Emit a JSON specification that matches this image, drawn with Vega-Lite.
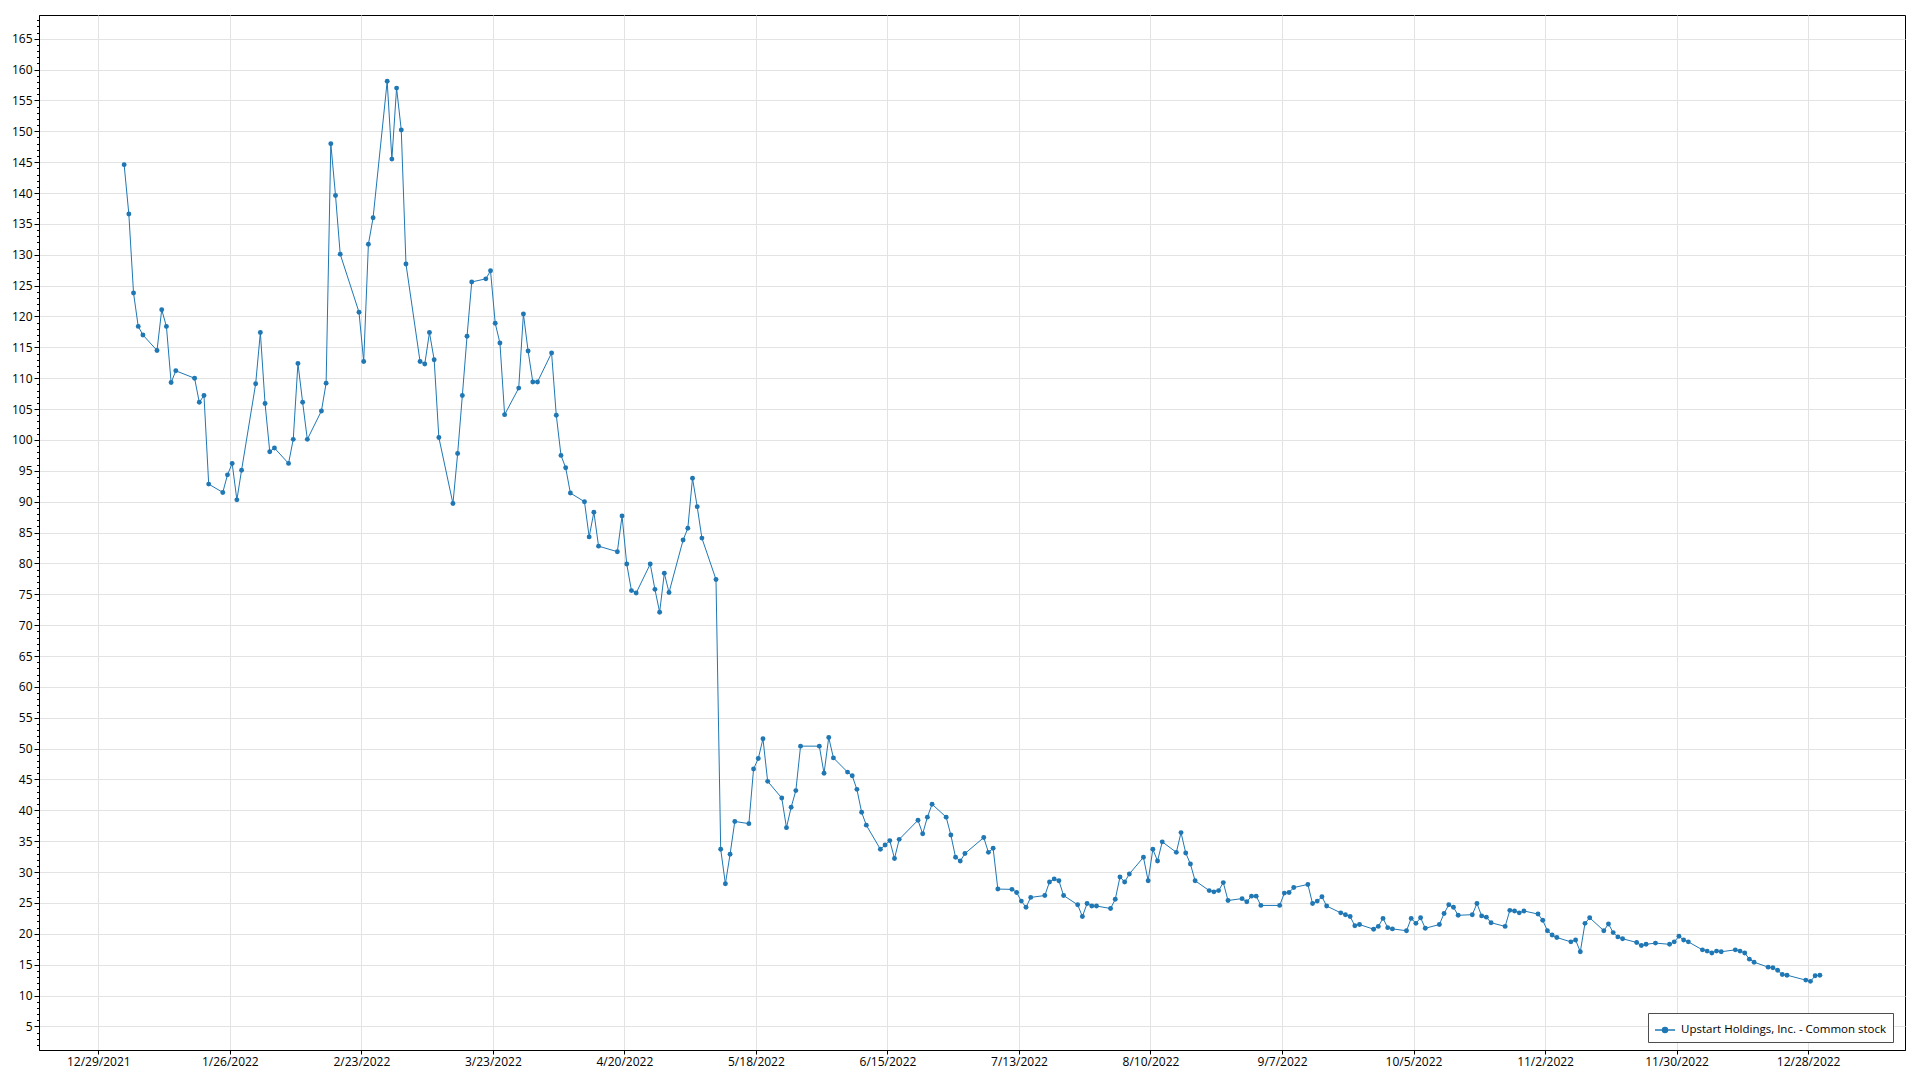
{
  "$schema": "https://vega.github.io/schema/vega-lite/v6.json",
  "width": 1866,
  "height": 1035,
  "autosize": {"type": "none"},
  "padding": {"left": 39, "top": 15, "right": 15, "bottom": 30},
  "background": "white",
  "config": {
    "view": {"stroke": "black", "strokeWidth": 1},
    "font": "Open Sans",
    "axis": {"domainColor": "black", "tickColor": "black", "labelColor": "black", "labelFontSize": 12, "gridColor": "#e3e3e3", "gridWidth": 1, "title": null}
  },
  "data": {"values": [
    {"date":"2022-01-03T12:00","close":144.6},
    {"date":"2022-01-04T12:00","close":136.6},
    {"date":"2022-01-05T12:00","close":123.8},
    {"date":"2022-01-06T12:00","close":118.4},
    {"date":"2022-01-07T12:00","close":117.0},
    {"date":"2022-01-10T12:00","close":114.5},
    {"date":"2022-01-11T12:00","close":121.1},
    {"date":"2022-01-12T12:00","close":118.4},
    {"date":"2022-01-13T12:00","close":109.3},
    {"date":"2022-01-14T12:00","close":111.2},
    {"date":"2022-01-18T12:00","close":110.0},
    {"date":"2022-01-19T12:00","close":106.1},
    {"date":"2022-01-20T12:00","close":107.2},
    {"date":"2022-01-21T12:00","close":92.85},
    {"date":"2022-01-24T12:00","close":91.5},
    {"date":"2022-01-25T12:00","close":94.35},
    {"date":"2022-01-26T12:00","close":96.2},
    {"date":"2022-01-27T12:00","close":90.3},
    {"date":"2022-01-28T12:00","close":95.1},
    {"date":"2022-01-31T12:00","close":109.1},
    {"date":"2022-02-01T12:00","close":117.4},
    {"date":"2022-02-02T12:00","close":105.9},
    {"date":"2022-02-03T12:00","close":98.1},
    {"date":"2022-02-04T12:00","close":98.7},
    {"date":"2022-02-07T12:00","close":96.2},
    {"date":"2022-02-08T12:00","close":100.1},
    {"date":"2022-02-09T12:00","close":112.4},
    {"date":"2022-02-10T12:00","close":106.1},
    {"date":"2022-02-11T12:00","close":100.1},
    {"date":"2022-02-14T12:00","close":104.7},
    {"date":"2022-02-15T12:00","close":109.2},
    {"date":"2022-02-16T12:00","close":148.0},
    {"date":"2022-02-17T12:00","close":139.6},
    {"date":"2022-02-18T12:00","close":130.1},
    {"date":"2022-02-22T12:00","close":120.7},
    {"date":"2022-02-23T12:00","close":112.7},
    {"date":"2022-02-24T12:00","close":131.7},
    {"date":"2022-02-25T12:00","close":136.0},
    {"date":"2022-02-28T12:00","close":158.1},
    {"date":"2022-03-01T12:00","close":145.5},
    {"date":"2022-03-02T12:00","close":157.0},
    {"date":"2022-03-03T12:00","close":150.2},
    {"date":"2022-03-04T12:00","close":128.5},
    {"date":"2022-03-07T12:00","close":112.7},
    {"date":"2022-03-08T12:00","close":112.3},
    {"date":"2022-03-09T12:00","close":117.4},
    {"date":"2022-03-10T12:00","close":113.0},
    {"date":"2022-03-11T12:00","close":100.4},
    {"date":"2022-03-14T12:00","close":89.7},
    {"date":"2022-03-15T12:00","close":97.8},
    {"date":"2022-03-16T12:00","close":107.2},
    {"date":"2022-03-17T12:00","close":116.8},
    {"date":"2022-03-18T12:00","close":125.6},
    {"date":"2022-03-21T12:00","close":126.1},
    {"date":"2022-03-22T12:00","close":127.4},
    {"date":"2022-03-23T12:00","close":118.9},
    {"date":"2022-03-24T12:00","close":115.7},
    {"date":"2022-03-25T12:00","close":104.1},
    {"date":"2022-03-28T12:00","close":108.4},
    {"date":"2022-03-29T12:00","close":120.4},
    {"date":"2022-03-30T12:00","close":114.4},
    {"date":"2022-03-31T12:00","close":109.4},
    {"date":"2022-04-01T12:00","close":109.4},
    {"date":"2022-04-04T12:00","close":114.1},
    {"date":"2022-04-05T12:00","close":104.0},
    {"date":"2022-04-06T12:00","close":97.5},
    {"date":"2022-04-07T12:00","close":95.5},
    {"date":"2022-04-08T12:00","close":91.4},
    {"date":"2022-04-11T12:00","close":90.0},
    {"date":"2022-04-12T12:00","close":84.3},
    {"date":"2022-04-13T12:00","close":88.3},
    {"date":"2022-04-14T12:00","close":82.8},
    {"date":"2022-04-18T12:00","close":81.9},
    {"date":"2022-04-19T12:00","close":87.7},
    {"date":"2022-04-20T12:00","close":79.9},
    {"date":"2022-04-21T12:00","close":75.6},
    {"date":"2022-04-22T12:00","close":75.2},
    {"date":"2022-04-25T12:00","close":79.9},
    {"date":"2022-04-26T12:00","close":75.8},
    {"date":"2022-04-27T12:00","close":72.1},
    {"date":"2022-04-28T12:00","close":78.4},
    {"date":"2022-04-29T12:00","close":75.3},
    {"date":"2022-05-02T12:00","close":83.8},
    {"date":"2022-05-03T12:00","close":85.7},
    {"date":"2022-05-04T12:00","close":93.8},
    {"date":"2022-05-05T12:00","close":89.2},
    {"date":"2022-05-06T12:00","close":84.1},
    {"date":"2022-05-09T12:00","close":77.4},
    {"date":"2022-05-10T12:00","close":33.7},
    {"date":"2022-05-11T12:00","close":28.1},
    {"date":"2022-05-12T12:00","close":32.9},
    {"date":"2022-05-13T12:00","close":38.2},
    {"date":"2022-05-16T12:00","close":37.85},
    {"date":"2022-05-17T12:00","close":46.7},
    {"date":"2022-05-18T12:00","close":48.4},
    {"date":"2022-05-19T12:00","close":51.6},
    {"date":"2022-05-20T12:00","close":44.7},
    {"date":"2022-05-23T12:00","close":42.0},
    {"date":"2022-05-24T12:00","close":37.2},
    {"date":"2022-05-25T12:00","close":40.5},
    {"date":"2022-05-26T12:00","close":43.2},
    {"date":"2022-05-27T12:00","close":50.4},
    {"date":"2022-05-31T12:00","close":50.4},
    {"date":"2022-06-01T12:00","close":46.0},
    {"date":"2022-06-02T12:00","close":51.8},
    {"date":"2022-06-03T12:00","close":48.5},
    {"date":"2022-06-06T12:00","close":46.2},
    {"date":"2022-06-07T12:00","close":45.6},
    {"date":"2022-06-08T12:00","close":43.4},
    {"date":"2022-06-09T12:00","close":39.7},
    {"date":"2022-06-10T12:00","close":37.6},
    {"date":"2022-06-13T12:00","close":33.7},
    {"date":"2022-06-14T12:00","close":34.4},
    {"date":"2022-06-15T12:00","close":35.1},
    {"date":"2022-06-16T12:00","close":32.2},
    {"date":"2022-06-17T12:00","close":35.3},
    {"date":"2022-06-21T12:00","close":38.4},
    {"date":"2022-06-22T12:00","close":36.2},
    {"date":"2022-06-23T12:00","close":38.9},
    {"date":"2022-06-24T12:00","close":41.0},
    {"date":"2022-06-27T12:00","close":38.9},
    {"date":"2022-06-28T12:00","close":36.0},
    {"date":"2022-06-29T12:00","close":32.4},
    {"date":"2022-06-30T12:00","close":31.8},
    {"date":"2022-07-01T12:00","close":33.0},
    {"date":"2022-07-05T12:00","close":35.6},
    {"date":"2022-07-06T12:00","close":33.2},
    {"date":"2022-07-07T12:00","close":33.85},
    {"date":"2022-07-08T12:00","close":27.25},
    {"date":"2022-07-11T12:00","close":27.2},
    {"date":"2022-07-12T12:00","close":26.7},
    {"date":"2022-07-13T12:00","close":25.3},
    {"date":"2022-07-14T12:00","close":24.3},
    {"date":"2022-07-15T12:00","close":25.9},
    {"date":"2022-07-18T12:00","close":26.2},
    {"date":"2022-07-19T12:00","close":28.4},
    {"date":"2022-07-20T12:00","close":28.9},
    {"date":"2022-07-21T12:00","close":28.6},
    {"date":"2022-07-22T12:00","close":26.2},
    {"date":"2022-07-25T12:00","close":24.7},
    {"date":"2022-07-26T12:00","close":22.8},
    {"date":"2022-07-27T12:00","close":24.9},
    {"date":"2022-07-28T12:00","close":24.5},
    {"date":"2022-07-29T12:00","close":24.5},
    {"date":"2022-08-01T12:00","close":24.1},
    {"date":"2022-08-02T12:00","close":25.6},
    {"date":"2022-08-03T12:00","close":29.2},
    {"date":"2022-08-04T12:00","close":28.4},
    {"date":"2022-08-05T12:00","close":29.7},
    {"date":"2022-08-08T12:00","close":32.4},
    {"date":"2022-08-09T12:00","close":28.6},
    {"date":"2022-08-10T12:00","close":33.7},
    {"date":"2022-08-11T12:00","close":31.8},
    {"date":"2022-08-12T12:00","close":34.9},
    {"date":"2022-08-15T12:00","close":33.2},
    {"date":"2022-08-16T12:00","close":36.4},
    {"date":"2022-08-17T12:00","close":33.1},
    {"date":"2022-08-18T12:00","close":31.3},
    {"date":"2022-08-19T12:00","close":28.6},
    {"date":"2022-08-22T12:00","close":27.0},
    {"date":"2022-08-23T12:00","close":26.8},
    {"date":"2022-08-24T12:00","close":27.0},
    {"date":"2022-08-25T12:00","close":28.3},
    {"date":"2022-08-26T12:00","close":25.4},
    {"date":"2022-08-29T12:00","close":25.7},
    {"date":"2022-08-30T12:00","close":25.2},
    {"date":"2022-08-31T12:00","close":26.1},
    {"date":"2022-09-01T12:00","close":26.1},
    {"date":"2022-09-02T12:00","close":24.6},
    {"date":"2022-09-06T12:00","close":24.6},
    {"date":"2022-09-07T12:00","close":26.6},
    {"date":"2022-09-08T12:00","close":26.7},
    {"date":"2022-09-09T12:00","close":27.5},
    {"date":"2022-09-12T12:00","close":28.0},
    {"date":"2022-09-13T12:00","close":24.9},
    {"date":"2022-09-14T12:00","close":25.3},
    {"date":"2022-09-15T12:00","close":26.0},
    {"date":"2022-09-16T12:00","close":24.5},
    {"date":"2022-09-19T12:00","close":23.4},
    {"date":"2022-09-20T12:00","close":23.1},
    {"date":"2022-09-21T12:00","close":22.8},
    {"date":"2022-09-22T12:00","close":21.3},
    {"date":"2022-09-23T12:00","close":21.5},
    {"date":"2022-09-26T12:00","close":20.75},
    {"date":"2022-09-27T12:00","close":21.2},
    {"date":"2022-09-28T12:00","close":22.5},
    {"date":"2022-09-29T12:00","close":21.0},
    {"date":"2022-09-30T12:00","close":20.8},
    {"date":"2022-10-03T12:00","close":20.5},
    {"date":"2022-10-04T12:00","close":22.5},
    {"date":"2022-10-05T12:00","close":21.7},
    {"date":"2022-10-06T12:00","close":22.6},
    {"date":"2022-10-07T12:00","close":20.9},
    {"date":"2022-10-10T12:00","close":21.5},
    {"date":"2022-10-11T12:00","close":23.3},
    {"date":"2022-10-12T12:00","close":24.7},
    {"date":"2022-10-13T12:00","close":24.3},
    {"date":"2022-10-14T12:00","close":23.0},
    {"date":"2022-10-17T12:00","close":23.1},
    {"date":"2022-10-18T12:00","close":24.9},
    {"date":"2022-10-19T12:00","close":22.9},
    {"date":"2022-10-20T12:00","close":22.7},
    {"date":"2022-10-21T12:00","close":21.8},
    {"date":"2022-10-24T12:00","close":21.2},
    {"date":"2022-10-25T12:00","close":23.8},
    {"date":"2022-10-26T12:00","close":23.7},
    {"date":"2022-10-27T12:00","close":23.4},
    {"date":"2022-10-28T12:00","close":23.7},
    {"date":"2022-10-31T12:00","close":23.2},
    {"date":"2022-11-01T12:00","close":22.2},
    {"date":"2022-11-02T12:00","close":20.5},
    {"date":"2022-11-03T12:00","close":19.8},
    {"date":"2022-11-04T12:00","close":19.4},
    {"date":"2022-11-07T12:00","close":18.7},
    {"date":"2022-11-08T12:00","close":19.0},
    {"date":"2022-11-09T12:00","close":17.1},
    {"date":"2022-11-10T12:00","close":21.7},
    {"date":"2022-11-11T12:00","close":22.6},
    {"date":"2022-11-14T12:00","close":20.5},
    {"date":"2022-11-15T12:00","close":21.6},
    {"date":"2022-11-16T12:00","close":20.2},
    {"date":"2022-11-17T12:00","close":19.5},
    {"date":"2022-11-18T12:00","close":19.2},
    {"date":"2022-11-21T12:00","close":18.6},
    {"date":"2022-11-22T12:00","close":18.1},
    {"date":"2022-11-23T12:00","close":18.3},
    {"date":"2022-11-25T12:00","close":18.5},
    {"date":"2022-11-28T12:00","close":18.3},
    {"date":"2022-11-29T12:00","close":18.7},
    {"date":"2022-11-30T12:00","close":19.6},
    {"date":"2022-12-01T12:00","close":19.0},
    {"date":"2022-12-02T12:00","close":18.7},
    {"date":"2022-12-05T12:00","close":17.4},
    {"date":"2022-12-06T12:00","close":17.2},
    {"date":"2022-12-07T12:00","close":16.9},
    {"date":"2022-12-08T12:00","close":17.2},
    {"date":"2022-12-09T12:00","close":17.1},
    {"date":"2022-12-12T12:00","close":17.4},
    {"date":"2022-12-13T12:00","close":17.2},
    {"date":"2022-12-14T12:00","close":16.9},
    {"date":"2022-12-15T12:00","close":15.9},
    {"date":"2022-12-16T12:00","close":15.4},
    {"date":"2022-12-19T12:00","close":14.6},
    {"date":"2022-12-20T12:00","close":14.5},
    {"date":"2022-12-21T12:00","close":14.1},
    {"date":"2022-12-22T12:00","close":13.4},
    {"date":"2022-12-23T12:00","close":13.3},
    {"date":"2022-12-27T12:00","close":12.5},
    {"date":"2022-12-28T12:00","close":12.3},
    {"date":"2022-12-29T12:00","close":13.2},
    {"date":"2022-12-30T12:00","close":13.3}
  ]},
  "encoding": {
    "x": {
      "field": "date",
      "type": "temporal",
      "scale": {"domain": [{"year": 2021, "month": 12, "date": 16, "hours": 9}, {"year": 2023, "month": 1, "date": 17, "hours": 15}]},
      "axis": {
        "values": [
          {"year": 2021, "month": 12, "date": 29},
          {"year": 2022, "month": 1, "date": 26},
          {"year": 2022, "month": 2, "date": 23},
          {"year": 2022, "month": 3, "date": 23},
          {"year": 2022, "month": 4, "date": 20},
          {"year": 2022, "month": 5, "date": 18},
          {"year": 2022, "month": 6, "date": 15},
          {"year": 2022, "month": 7, "date": 13},
          {"year": 2022, "month": 8, "date": 10},
          {"year": 2022, "month": 9, "date": 7},
          {"year": 2022, "month": 10, "date": 5},
          {"year": 2022, "month": 11, "date": 2},
          {"year": 2022, "month": 11, "date": 30},
          {"year": 2022, "month": 12, "date": 28}
        ],
        "format": "%-m/%-d/%Y",
        "tickSize": 4,
        "labelPadding": 2,
        "labelFlush": false,
        "labelOverlap": false,
        "title": null
      }
    },
    "y": {
      "field": "close",
      "type": "quantitative",
      "scale": {"domain": [1.18, 168.84], "nice": false, "zero": false},
      "axis": {
        "values": [2,3,4,5,6,7,8,9,10,11,12,13,14,15,16,17,18,19,20,21,22,23,24,25,26,27,28,29,30,31,32,33,34,35,36,37,38,39,40,41,42,43,44,45,46,47,48,49,50,51,52,53,54,55,56,57,58,59,60,61,62,63,64,65,66,67,68,69,70,71,72,73,74,75,76,77,78,79,80,81,82,83,84,85,86,87,88,89,90,91,92,93,94,95,96,97,98,99,100,101,102,103,104,105,106,107,108,109,110,111,112,113,114,115,116,117,118,119,120,121,122,123,124,125,126,127,128,129,130,131,132,133,134,135,136,137,138,139,140,141,142,143,144,145,146,147,148,149,150,151,152,153,154,155,156,157,158,159,160,161,162,163,164,165,166,167,168],
        "labelExpr": "datum.value % 5 === 0 ? datum.label : ''",
        "tickSize": {"condition": {"test": "datum.value % 5 === 0", "value": 5}, "value": 2.5},
        "gridOpacity": {"condition": {"test": "datum.value % 5 === 0", "value": 1}, "value": 0},
        "labelPadding": 2,
        "labelOverlap": false,
        "labelBound": false,
        "title": null
      }
    },
    "color": {
      "datum": "Upstart Holdings, Inc. - Common stock",
      "scale": {"range": ["#1f77b4"]},
      "legend": {
        "title": null,
        "orient": "none",
        "legendX": 1609,
        "legendY": 998,
        "symbolType": "M-1,0H1M0.25,0A0.25,0.25,0,1,1,-0.25,0A0.25,0.25,0,1,1,0.25,0Z",
        "symbolSize": 400,
        "symbolStrokeWidth": 1.5,
        "symbolFillColor": "#1f77b4",
        "symbolStrokeColor": "#1f77b4",
        "strokeColor": "#4d4d4d",
        "fillColor": "white",
        "padding": 6,
        "labelFontSize": 11.5,
        "labelLimit": 400,
        "labelColor": "black",
        "labelOffset": 5
      }
    }
  },
  "layer": [
    {"mark": {"type": "line", "strokeWidth": 1}},
    {"mark": {"type": "circle", "size": 24, "opacity": 1}}
  ]
}
